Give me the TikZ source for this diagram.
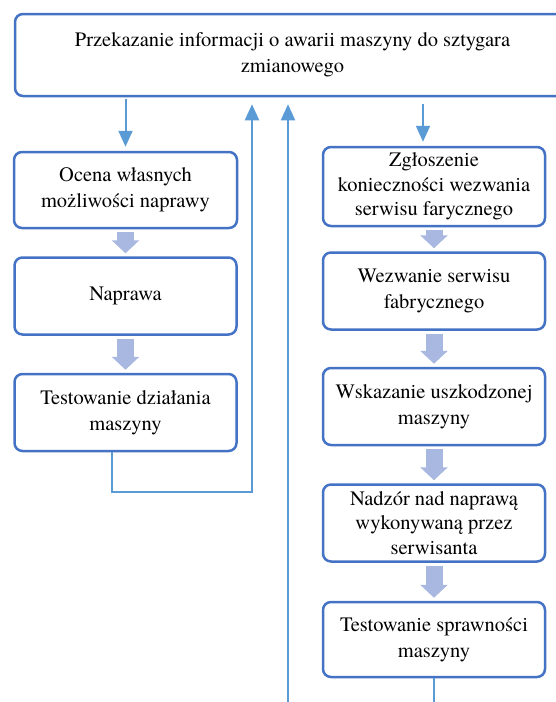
\documentclass[tikz,border=0pt]{standalone}
\usepackage{fontspec}
\setmainfont{texgyretermes-regular.otf}
\usetikzlibrary{arrows.meta,positioning}
\usepackage{xcolor}
\definecolor{cborder}{HTML}{4472C4}
\definecolor{cline}{HTML}{5B9BD5}
\definecolor{cblock}{HTML}{A9B8E0}

\begin{document}
\begin{tikzpicture}[x=1pt, y=-1pt, node distance=27pt,
    box/.style={draw=cborder, line width=2.5pt, rounded corners=8pt, fill=white,
      minimum width=222pt, minimum height=77pt, align=center, inner sep=2pt,
      font=\fontsize{20.5}{26}\selectfont},
    box3/.style={box, font=\fontsize{20.5}{24.5}\selectfont},
    line/.style={draw=cline, line width=2pt},
    conn/.style={line, -{Triangle[width=14pt,length=16pt]}},
    fat/.style={draw=cblock, line width=17pt, shorten <=3pt, shorten >=3pt,
      -{Triangle[width=27pt,length=13pt]}}]
    \useasboundingbox (0,0) rectangle (556,702);
    \clip (0,0) rectangle (556,702);
    \node[box, minimum width=555pt, minimum height=82pt] (zgl) at (292.5,55)
      {Przekazanie informacji o awarii maszyny do sztygara\\zmianowego};
    \node[box, minimum width=223pt, minimum height=76pt] (ocena) at (125.5,190)
      {Ocena własnych\\możliwości naprawy};
    \node[box, below=27pt of ocena] (naprawa) {Naprawa};
    \node[box, below=37pt of naprawa] (test) {Testowanie działania\\maszyny};
    \node[box3, minimum height=79pt] (zglosz) at (434,186.5)
      {Zgłoszenie\\konieczności wezwania\\serwisu farycznego};
    \node[box, below=24pt of zglosz] (wezw) {Wezwanie serwisu\\fabrycznego};
    \node[box, below=36pt of wezw] (wskaz) {Wskazanie uszkodzonej\\maszyny};
    \node[box3, below=37pt of wskaz] (nadzor) {Nadzór nad naprawą\\wykonywaną przez\\serwisanta};
    \node[box, minimum height=75pt, below=38pt of nadzor] (testspr) {Testowanie sprawności\\maszyny};
    \coordinate (dol) at (288,702);
    \draw[fat] (ocena) -- (naprawa);
    \draw[fat] (naprawa) -- (test);
    \draw[fat] (zglosz) -- (wezw);
    \draw[fat] (wezw) -- (wskaz);
    \draw[fat] (wskaz) -- (nadzor);
    \draw[fat] (nadzor) -- (testspr);
    \draw[conn, shorten <=2pt, shorten >=4pt] (zgl.south -| ocena) -- (ocena.north);
    \draw[conn, shorten <=7pt, shorten >=4pt] ([xshift=-11pt]zglosz.north |- zgl.south) -- ([xshift=-11pt]zglosz.north);
    \draw[conn, shorten >=7pt] ([xshift=-13.5pt]test.south) -- ++(0,40) -| ([xshift=-40.5pt]zgl.south);
    \draw[conn, shorten >=7pt] (dol) -- (dol |- zgl.south);
    \draw[line] (testspr.south) -- (testspr.south |- dol);
  \end{tikzpicture}
\end{document}
